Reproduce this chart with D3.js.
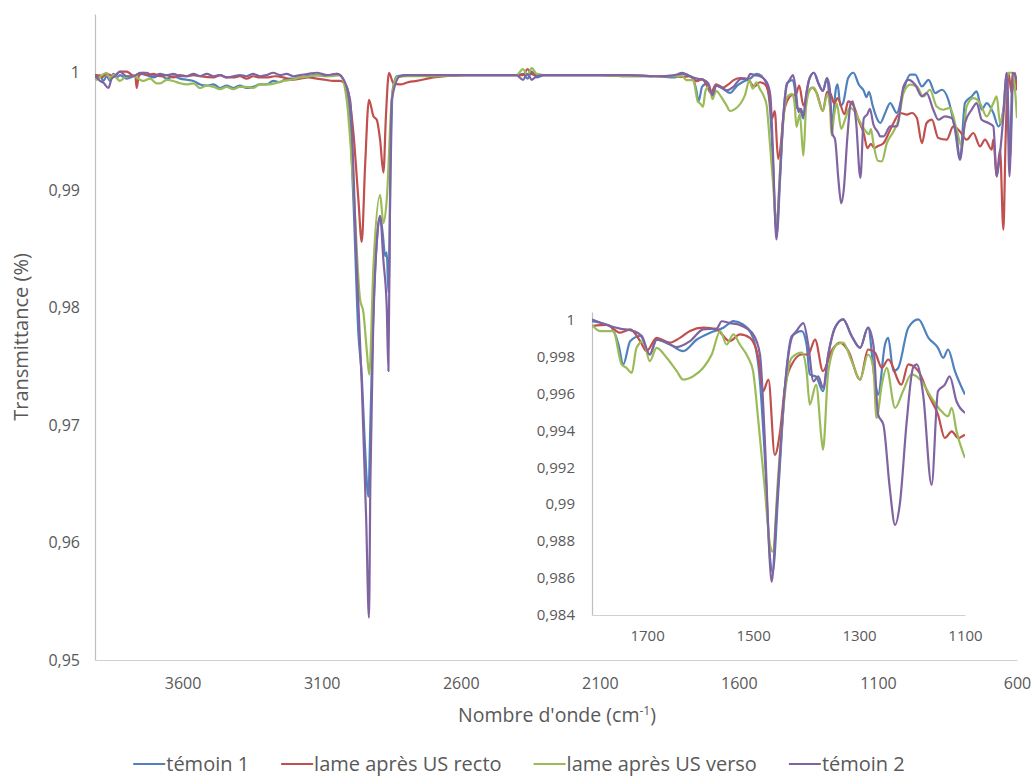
<!DOCTYPE html>
<html>
<head>
<meta charset="utf-8">
<script src="https://d3js.org/d3.v7.min.js"></script>
<style>
    body { margin: 0; background: #fff; }
    svg text { font-family: "Open Sans", sans-serif; fill: #595959; }
</style>
</head>
<body>
<div class="spectre_chart"></div>
<script>

// series names + colours (Excel default palette)
var seriesNames = ["témoin 1", "lame après US recto", "lame après US verso", "témoin 2"];
var seriesColors = ["#4F81BD", "#C0504D", "#9BBB59", "#8064A2"];

var mainXTicks = [3600, 3100, 2600, 2100, 1600, 1100, 600];
var mainYTicks = [0.95, 0.96, 0.97, 0.98, 0.99, 1];
var insetXTicks = [1700, 1500, 1300, 1100];
var insetYTicks = [0.984, 0.986, 0.988, 0.99, 0.992, 0.994, 0.996, 0.998, 1];

// [nombre d'onde, transmittance]
var temoin1 = [[3915,0.9997],[3909,0.9995],[3897,0.9998],[3885,0.9993],[3873,0.9997],[3861,0.9993],[3849,0.9999],[3837,0.9996],[3825,0.9998],[3801,0.9995],[3777,0.9997],[3753,0.9999],[3729,0.9998],[3705,0.9996],[3681,0.9998],[3657,0.9995],[3633,0.9997],[3609,0.9995],[3585,0.9994],[3561,0.9993],[3537,0.9990],[3513,0.9989],[3489,0.9990],[3465,0.9987],[3442,0.9989],[3418,0.9987],[3394,0.9989],[3370,0.9987],[3346,0.9988],[3322,0.9990],[3298,0.9990],[3274,0.9993],[3250,0.9992],[3226,0.9995],[3202,0.9995],[3160,0.9997],[3118,0.9998],[3082,0.9997],[3046,0.9999],[3034,0.9998],[3004,0.9977],[2986,0.9892],[2968,0.9778],[2956,0.9742],[2946,0.9690],[2932,0.9639],[2925,0.9700],[2915,0.9790],[2900,0.9862],[2890,0.9878],[2880,0.9862],[2872,0.9844],[2866,0.9847],[2860,0.9813],[2852,0.9920],[2845,0.9985],[2830,0.9997],[2790,0.9998],[2700,0.9997],[2600,0.9998],[2500,0.9998],[2400,0.9998],[2376,0.9999],[2360,0.9995],[2345,1.0001],[2327,0.9996],[2300,0.9998],[2200,0.9998],[2100,0.9998],[2000,0.9997],[1900,0.9997],[1830,0.9996],
    [1804,0.9999],[1770,0.99964],[1754,0.99864],[1745,0.99756],[1732,0.99882],[1713,0.9991],[1695,0.9981],[1682,0.9989],[1657,0.99864],[1632,0.99828],[1606,0.99891],[1581,0.99928],[1556,0.99955],[1537,0.99991],[1519,0.99973],[1500,0.9990],[1487,0.99665],[1478,0.99267],[1468,0.98709],[1463,0.98634],[1452,0.99087],[1440,0.9963],[1427,0.9991],[1408,0.99937],[1399,0.99864],[1393,0.99702],[1381,0.9969],[1368,0.99611],[1358,0.9981],[1345,0.99957],[1330,1.0],[1314,0.9991],[1298,0.99846],[1283,0.99955],[1270,0.99665],[1264,0.99593],[1251,0.99864],[1245,0.9990],[1235,0.9972],[1226,0.99738],[1207,0.99955],[1188,1.0],[1169,0.9990],[1151,0.99846],[1141,0.99792],[1132,0.99837],[1119,0.9972],[1100,0.99593],
    [1092,0.99572],[1074,0.99657],[1056,0.99742],[1032,0.99657],[1008,0.99855],[984,0.99983],[966,0.99983],[942,0.99883],[918,0.9994],[894,0.99827],[870,0.99855],[847,0.9977],[823,0.99515],[805,0.9926],[787,0.99742],[763,0.99798],[745,0.99841],[727,0.99685],[709,0.99742],[685,0.99657],[667,0.99543],[649,0.99685],[637,1.0],[625,0.9926],[613,1.0],[600,0.9988]];

var lameRecto = [[3915,0.9998],[3909,0.9998],[3891,0.9996],[3873,0.9999],[3849,0.9997],[3825,1.0001],[3801,1.0001],[3782,0.9998],[3770,0.9997],[3765,0.9987],[3758,0.9997],[3741,1.0000],[3729,0.9998],[3705,0.9999],[3681,0.9997],[3657,0.9998],[3633,0.9996],[3609,0.9998],[3585,0.9997],[3561,0.9998],[3537,0.9997],[3489,0.9996],[3465,0.9998],[3442,0.9996],[3418,0.9996],[3394,0.9997],[3370,0.9995],[3346,0.9997],[3322,0.9996],[3298,0.9996],[3268,0.9997],[3238,0.9996],[3208,0.9994],[3178,0.9995],[3148,0.9996],[3118,0.9995],[3088,0.9994],[3058,0.9993],[3034,0.9993],[3010,0.9988],[2986,0.9949],[2968,0.9892],[2956,0.9856],[2944,0.9920],[2930,0.9977],[2914,0.9963],[2902,0.9960],[2890,0.9943],[2878,0.9915],[2869,0.9963],[2858,1.0],[2842,0.9991],[2818,0.9990],[2788,0.9992],[2758,0.9993],[2698,0.9996],[2578,0.9998],[2450,0.9998],[2376,0.9998],[2360,1.0003],[2345,0.9999],[2327,0.9998],[2200,0.9998],[2100,0.9998],[2000,0.9998],[1900,0.9997],[1830,0.9997],
    [1804,0.99964],[1776,0.9997],[1751,0.99928],[1732,0.99946],[1713,0.99882],[1701,0.99828],[1682,0.9990],[1657,0.99874],[1638,0.9990],[1619,0.99937],[1594,0.99955],[1569,0.99946],[1544,0.99882],[1525,0.99919],[1506,0.9990],[1490,0.99792],[1481,0.99611],[1471,0.99674],[1459,0.99267],[1449,0.99394],[1440,0.9963],[1427,0.99756],[1408,0.9981],[1396,0.9981],[1383,0.99891],[1368,0.9972],[1352,0.99828],[1336,0.99874],[1320,0.99828],[1298,0.99674],[1283,0.99837],[1270,0.9982],[1257,0.99738],[1245,0.99783],[1220,0.99647],[1207,0.99756],[1188,0.9972],[1169,0.99593],[1151,0.99485],[1138,0.99358],[1125,0.99394],[1113,0.99358],[1100,0.99376],
    [1080,0.994],[1056,0.99515],[1044,0.99572],[1020,0.99657],[996,0.99643],[978,0.99657],[960,0.99614],[942,0.994],[925,0.99572],[906,0.996],[883,0.99444],[853,0.9943],[829,0.99543],[805,0.995],[781,0.9943],[757,0.99487],[733,0.99373],[715,0.9943],[691,0.99345],[685,0.9943],[673,0.99117],[661,0.99345],[649,0.98664],[641,0.9943],[631,1.0],[619,0.99827],[607,1.0],[600,0.9985]];

var lameVerso = [[3915,0.9995],[3909,0.9994],[3891,0.9998],[3873,1.0],[3861,0.9995],[3849,0.9998],[3825,0.9993],[3801,0.9997],[3777,0.9997],[3753,0.9994],[3741,0.9993],[3717,0.9995],[3693,0.9991],[3681,0.9991],[3657,0.9994],[3633,0.9993],[3609,0.9991],[3585,0.9990],[3561,0.9991],[3537,0.9987],[3513,0.9989],[3489,0.9988],[3465,0.9986],[3442,0.9988],[3418,0.9986],[3394,0.9988],[3370,0.9988],[3346,0.9987],[3322,0.9990],[3298,0.9990],[3268,0.9991],[3238,0.9993],[3208,0.9994],[3178,0.9996],[3142,0.9997],[3106,0.9998],[3070,0.9997],[3034,0.9998],[3010,0.9977],[2986,0.9903],[2962,0.9807],[2950,0.9796],[2938,0.9764],[2929,0.9743],[2914,0.9835],[2890,0.9896],[2878,0.9872],[2866,0.9892],[2848,0.9977],[2830,0.9996],[2790,0.9997],[2700,0.9997],[2600,0.9998],[2500,0.9998],[2400,0.9998],[2376,1.0003],[2360,0.9998],[2345,1.0004],[2327,0.9999],[2300,0.9998],[2200,0.9998],[2100,0.9998],[2000,0.9997],[1900,0.9997],[1830,0.9997],
    [1804,0.9997],[1789,0.99937],[1764,0.99937],[1748,0.99756],[1739,0.99738],[1729,0.9971],[1720,0.99846],[1707,0.99882],[1695,0.99774],[1682,0.99846],[1663,0.99792],[1644,0.9972],[1632,0.99674],[1613,0.99692],[1594,0.99738],[1578,0.9981],[1562,0.99937],[1550,0.99864],[1537,0.99919],[1525,0.99864],[1509,0.99792],[1500,0.9972],[1490,0.99448],[1478,0.99087],[1468,0.98779],[1463,0.98743],[1452,0.99177],[1440,0.99593],[1427,0.99792],[1408,0.9982],[1399,0.9972],[1393,0.99539],[1381,0.99647],[1371,0.99358],[1368,0.99295],[1358,0.9972],[1342,0.99864],[1330,0.99874],[1314,0.99774],[1298,0.99674],[1283,0.9981],[1273,0.99738],[1267,0.99467],[1257,0.99647],[1248,0.99738],[1232,0.99521],[1217,0.99611],[1201,0.99702],[1182,0.99665],[1163,0.99575],[1144,0.99502],[1132,0.99476],[1125,0.99521],[1116,0.99394],[1100,0.9925],
    [1086,0.99245],[1068,0.994],[1044,0.995],[1026,0.996],[1008,0.99827],[984,0.99898],[960,0.99883],[937,0.99798],[913,0.99855],[889,0.99713],[865,0.99685],[841,0.997],[817,0.99515],[799,0.99373],[781,0.99713],[757,0.99784],[733,0.99742],[709,0.99628],[685,0.99742],[673,0.99798],[661,0.99572],[643,0.9977],[631,1.0],[616,1.0],[600,0.99614]];

var temoin2 = [[3915,0.9997],[3909,0.9996],[3897,0.9993],[3885,0.99915],[3867,0.9987],[3855,0.9995],[3843,0.9997],[3825,1.0001],[3801,0.9997],[3777,0.9997],[3753,1.0000],[3729,1.0],[3705,0.9997],[3681,0.9999],[3657,0.9998],[3633,0.9999],[3609,0.9997],[3585,0.9997],[3561,0.9999],[3537,0.9997],[3513,0.9999],[3489,0.9997],[3465,0.9998],[3442,0.9996],[3418,0.9997],[3394,0.9998],[3370,0.9997],[3346,0.9999],[3322,0.9997],[3298,0.9998],[3274,1.0],[3250,0.9998],[3226,0.9999],[3202,0.9997],[3178,0.9998],[3148,0.9999],[3118,1.0],[3082,0.9998],[3046,0.9999],[3034,0.9998],[2998,0.9977],[2974,0.9835],[2956,0.9736],[2940,0.9620],[2930,0.9536],[2925,0.9650],[2915,0.9780],[2900,0.9862],[2890,0.9878],[2878,0.9840],[2866,0.9800],[2860,0.9746],[2854,0.9900],[2848,0.9977],[2818,0.9997],[2790,0.9998],[2700,0.9998],[2600,0.9998],[2500,0.9998],[2400,0.9998],[2376,0.9994],[2360,0.9999],[2345,0.9994],[2327,0.9997],[2300,0.9998],[2200,0.9998],[2100,0.9998],[2000,0.9998],[1900,0.9997],[1830,0.9998],
    [1804,1.0],[1776,0.9997],[1751,0.9995],[1726,0.99937],[1710,0.9991],[1695,0.9981],[1682,0.9989],[1663,0.99875],[1644,0.9985],[1619,0.99882],[1594,0.99946],[1569,0.9995],[1559,0.9999],[1544,0.9998],[1525,0.9997],[1500,0.9992],[1487,0.9981],[1478,0.9936],[1468,0.9867],[1465,0.9858],[1455,0.9900],[1440,0.9963],[1427,0.9990],[1418,0.99937],[1405,0.9998],[1396,0.99865],[1386,0.99665],[1377,0.99692],[1368,0.9963],[1358,0.9981],[1345,0.99957],[1330,1.0],[1314,0.9991],[1298,0.99846],[1283,0.99955],[1273,0.99864],[1264,0.99485],[1254,0.9943],[1242,0.99087],[1232,0.98888],[1223,0.9900],[1210,0.99448],[1198,0.99738],[1191,0.99756],[1179,0.99593],[1163,0.99105],[1151,0.99611],[1138,0.99647],[1129,0.99692],[1116,0.99557],[1100,0.99494],
    [1092,0.99458],[1080,0.99458],[1056,0.99543],[1032,0.99543],[1008,0.99883],[990,0.9994],[966,0.99898],[942,0.99798],[925,0.99827],[901,0.99685],[883,0.996],[859,0.99628],[835,0.99614],[817,0.99458],[805,0.9926],[787,0.99572],[763,0.99685],[745,0.99742],[727,0.996],[703,0.99572],[685,0.99543],[673,0.99117],[661,0.99317],[649,0.99628],[637,1.0],[627,0.99117],[616,1.0],[600,0.9994]];

var allSeries = [temoin1, lameRecto, lameVerso, temoin2];


function frNumber(v) {
    // 0.99 -> "0,99", 1 -> "1"
    return String(+v.toFixed(3)).replace(".", ",");
}


function drawPanel(svg, id, box, xDomain, yDomain, xTicks, yTicks, fontSize, xLabelY) {

    var x = d3.scaleLinear().domain(xDomain).range([box.left, box.right]);
    var y = d3.scaleLinear().domain(yDomain).range([box.bottom, box.top]);

    svg.append("clipPath")
        .attr("id", id)
        .append("rect")
        .attr("x", box.left)
        .attr("y", box.top)
        .attr("width", box.right - box.left)
        .attr("height", box.bottom - box.top);

    svg.append("rect")
        .attr("x", box.left)
        .attr("y", box.top)
        .attr("width", box.right - box.left)
        .attr("height", box.bottom - box.top)
        .attr("fill", "#fff");

    // axes lines, no tick marks (Excel look)
    var yAxis = d3.axisLeft(y).tickValues(yTicks).tickSize(0).tickPadding(box.yPad).tickFormat(frNumber);
    var gy = svg.append("g").attr("transform", "translate(" + box.left + ",0)").call(yAxis);
    gy.select(".domain").attr("stroke", "#BFBFBF").attr("stroke-width", 1.2);
    gy.selectAll("text").style("font-size", fontSize + "px");

    var xAxis = d3.axisBottom(x).tickValues(xTicks).tickSize(0).tickPadding(xLabelY).tickFormat(d3.format("d"));
    var gx = svg.append("g").attr("transform", "translate(0," + box.bottom + ")").call(xAxis);
    gx.select(".domain").attr("stroke", "#D0D0D0").attr("stroke-width", 1.2);
    gx.selectAll("text").style("font-size", fontSize + "px");

    var line = d3.line()
        .x(function (d) { return x(d[0]); })
        .y(function (d) { return y(d[1]); })
        .curve(d3.curveMonotoneX);

    var g = svg.append("g").attr("clip-path", "url(#" + id + ")");
    for (var i = 0; i < allSeries.length; i++) {
        var pts = allSeries[i].filter(function (d) { return d[0] <= xDomain[0] + 1 && d[0] >= xDomain[1] - 1; });
        g.append("path")
            .datum(pts)
            .attr("d", line)
            .attr("fill", "none")
            .attr("stroke", seriesColors[i])
            .attr("stroke-width", 2.2)
            .attr("stroke-linejoin", "round");
    }
}


function spectreGraph(selector) {

    var div_width = 1033;
    var div_height = 776;

    var svg = d3.select(selector).append("svg")
        .attr("width", div_width)
        .attr("height", div_height);

    svg.append("rect").attr("width", div_width).attr("height", div_height).attr("fill", "#fff");

    // main chart
    drawPanel(svg, "clipMain",
        { left: 95, right: 1017, top: 14, bottom: 660, yPad: 15 },
        [3915, 600], [0.95, 1.005], mainXTicks, mainYTicks, 16, 18);

    // zoom 1800 - 1100
    drawPanel(svg, "clipInset",
        { left: 592, right: 965, top: 312, bottom: 615, yPad: 17 },
        [1804, 1100], [0.984, 1.0004], insetXTicks, insetYTicks, 15, 15);

    svg.append("text")
        .attr("transform", "translate(28,337) rotate(-90)")
        .attr("text-anchor", "middle")
        .style("font-size", "20px")
        .text("Transmittance (%)");

    var xt = svg.append("text")
        .attr("x", 557)
        .attr("y", 722)
        .attr("text-anchor", "middle")
        .style("font-size", "19.5px");
    xt.append("tspan").text("Nombre d'onde (cm");
    xt.append("tspan").attr("dy", -7).style("font-size", "12px").text("-1");
    xt.append("tspan").attr("dy", 7).text(")");

    // legend, centred under the plot
    var legend = svg.append("g");
    var pos = 0;
    for (var i = 0; i < seriesNames.length; i++) {
        var item = legend.append("g").attr("transform", "translate(" + pos + ",0)");
        item.append("line")
            .attr("x1", 0).attr("x2", 32)
            .attr("y1", 0).attr("y2", 0)
            .attr("stroke", seriesColors[i])
            .attr("stroke-width", 2.2);
        var t = item.append("text")
            .attr("x", 33)
            .attr("y", 7)
            .style("font-size", "20px")
            .text(seriesNames[i]);
        pos += 33 + t.node().getComputedTextLength() + 32;
    }
    var total = pos - 32;
    legend.attr("transform", "translate(" + (519 - total / 2) + ",764)");
}

spectreGraph(".spectre_chart");

</script>
</body>
</html>
